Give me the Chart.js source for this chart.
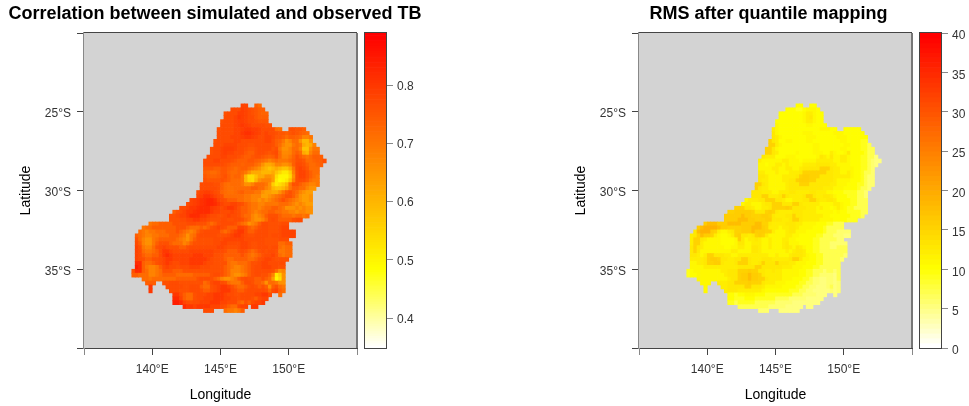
<!DOCTYPE html>
<html>
<head>
<meta charset="utf-8">
<script src="https://cdn.jsdelivr.net/npm/chart.js@4"></script>
<style>
  html, body { margin: 0; padding: 0; background: #fff; overflow: hidden; }
  canvas { position: absolute; top: 0; }
</style>
</head>
<body>
<canvas id="corr-map" width="430" height="406" style="left:0"></canvas>
<canvas id="corr-bar" width="80" height="406" style="left:360px"></canvas>
<canvas id="rms-map" width="403" height="406" style="left:567px"></canvas>
<canvas id="rms-bar" width="54" height="406" style="left:915px"></canvas>
<script>
// grid of the maps, one row per 0.25 degree going south
const firstLon = 138.5;
const firstLat = -24.5;
const cellDeg = 0.25;

// first column of every row, the arrays below start there (0 = no data in that cell)
const rowFirstCol = [32,29,27,27,26,26,25,25,25,24,24,23,23,22,21,21,21,21,21,21,20,20,19,19,17,16,14,12,11,11,5,3,2,1,1,1,1,1,1,1,1,1,0,0,3,4,5,5,12,12,12,15,21];

// correlation x 100
const corrRows = [
[78,78,0,0,74,72],
[77,77,77,79,78,77,76,75,74,74],
[76,77,77,77,79,79,78,77,76,75,74,73,73],
[77,77,77,78,80,79,78,77,77,75,74,74,74],
[76,77,77,77,78,79,79,78,77,77,76,75,75,75],
[77,77,77,77,78,79,80,79,78,77,77,77,77,76,76],
[76,77,77,77,77,78,78,79,80,80,79,79,78,77,77,77,77,72,71,0,0,76,76,75,75,74],
[77,77,77,77,77,78,78,80,81,81,80,79,78,77,78,77,77,76,75,75,74,75,76,75,74,73,72],
[77,77,77,77,78,78,78,79,80,80,79,78,77,77,78,78,77,75,75,74,72,74,74,73,72,68,68,70],
[76,77,77,77,77,77,78,78,77,77,77,77,77,77,77,78,78,76,74,73,70,66,68,72,72,66,60,60,66],
[77,77,77,78,78,78,78,77,77,77,76,76,77,77,77,77,77,76,74,72,68,66,66,70,72,70,62,60,62,68],
[76,77,77,78,79,79,79,78,77,77,76,75,75,76,77,77,77,77,75,76,70,66,66,68,72,72,68,58,58,66,70,70],
[76,77,77,78,79,78,78,77,77,77,75,74,74,76,77,77,76,75,76,77,72,67,67,68,72,74,72,62,60,68,72,72],
[77,77,77,77,78,78,77,77,77,76,75,74,74,75,76,76,75,74,73,74,76,72,68,68,70,73,76,74,72,70,72,74,74,74],
[77,77,77,78,78,77,77,77,76,75,74,74,74,75,75,74,73,72,70,68,70,72,70,70,70,72,74,76,76,75,72,72,73,74,74,76],
[77,77,77,77,77,77,76,75,74,74,74,73,74,74,74,72,70,66,62,62,64,68,68,66,66,68,74,77,77,76,74,72,72,73,74],
[75,75,75,74,74,75,75,74,73,72,73,74,74,72,70,68,66,62,60,58,60,62,60,58,58,62,70,77,78,77,75,72,72,72],
[74,73,72,72,73,75,75,73,72,72,73,72,70,66,62,62,62,60,60,60,62,58,55,52,52,56,68,76,78,78,76,74,72,72],
[75,74,73,73,74,75,76,74,72,73,73,70,60,54,54,58,62,62,66,66,64,54,50,50,50,54,66,76,78,78,76,74,72,70],
[76,75,75,75,75,76,75,74,72,72,72,70,60,55,54,60,66,68,68,68,64,52,49,50,52,58,68,76,77,77,75,72,70,70],
[77,77,77,77,76,76,74,72,71,72,72,72,70,66,66,68,72,72,72,70,66,56,52,54,56,60,70,76,76,74,72,70,68,68,70],
[77,77,77,77,77,76,74,72,71,71,72,72,72,72,72,74,74,72,72,68,66,60,58,58,60,64,70,74,74,72,72,68,66,66],
[77,78,79,79,78,77,76,73,72,71,71,72,73,74,72,72,72,70,70,66,64,64,62,62,66,70,74,76,74,72,68,66,64,64],
[78,79,81,81,80,78,77,76,72,72,72,72,72,72,70,70,68,68,68,64,64,66,68,70,72,74,76,76,74,70,66,64,64,66],
[78,79,80,81,82,83,83,81,78,77,76,74,74,74,72,72,70,70,68,68,66,68,66,68,70,72,74,76,74,72,70,68,66,64,64,66],
[77,78,79,80,81,82,83,83,82,80,78,77,77,78,78,77,76,74,72,70,70,68,68,70,70,70,70,72,72,72,70,68,66,68,66,64,64],
[77,77,78,80,80,81,82,82,82,80,79,78,77,78,80,80,78,76,74,74,72,70,70,68,70,72,72,74,74,72,70,66,66,66,68,66,68,66,66],
[74,76,77,78,80,80,81,82,82,82,82,80,78,78,77,77,77,78,77,76,74,74,72,70,68,70,72,72,74,74,72,72,70,70,68,68,66,68,68,66,66],
[76,76,77,78,78,80,82,82,82,80,80,78,77,77,76,76,77,78,77,77,76,74,72,72,68,66,68,70,74,76,76,76,74,72,72,72,70,72,72,70,72],
[76,76,76,77,77,78,78,80,80,78,78,77,76,76,76,77,77,76,76,77,77,76,74,72,68,66,66,68,72,76,77,76,74,74,74,74,76,77,77],
[70,72,72,74,74,74,74,76,76,76,76,77,77,77,76,76,76,74,72,74,76,77,77,77,77,76,74,72,70,66,68,70,74,77,77,76,76,76,76,77,77],
[70,72,72,74,74,74,74,74,74,74,76,76,76,74,72,72,72,74,72,74,76,77,78,77,76,74,74,74,78,78,77,74,72,74,76,77,77,76,76,76,77,78,78],
[72,70,68,70,70,72,72,72,74,74,74,76,74,72,70,68,70,74,76,77,77,77,77,77,74,72,74,76,78,80,80,77,74,74,76,77,77,77,76,76,76,77,78,78,78,78],
[74,72,70,68,68,70,70,72,72,72,74,74,74,72,70,66,70,72,76,77,77,77,77,77,76,76,76,77,78,80,80,78,77,76,76,77,77,77,77,76,77,77,77,78,78,78,78],
[76,72,68,66,66,70,72,74,74,74,74,74,72,70,68,66,70,74,76,76,76,76,76,77,77,77,78,78,78,78,78,78,77,77,77,77,77,77,76,76,76,76,77,77,77],
[77,74,68,66,66,70,74,76,76,76,74,72,72,72,68,70,74,76,76,76,76,76,76,77,77,78,78,77,77,77,77,78,78,77,76,76,77,77,76,76,76,76,72,72,74,74],
[78,76,70,68,68,72,76,77,78,77,76,76,76,74,74,76,77,77,77,77,77,77,77,77,78,78,77,76,76,76,77,78,78,77,76,76,77,77,77,76,77,77,72,70,72,72],
[78,77,72,70,70,72,74,77,80,80,78,77,77,77,77,77,78,78,78,78,78,78,78,77,77,77,76,74,74,74,76,77,76,74,72,74,76,77,76,77,77,76,70,70,72,72],
[78,77,74,72,72,74,74,77,80,82,80,78,78,78,78,78,78,80,80,80,78,78,78,76,76,76,74,74,74,74,74,76,74,72,70,72,74,76,77,77,78,76,72,70,72,72],
[78,77,76,74,74,76,76,77,78,80,80,78,78,78,78,78,80,80,80,80,80,78,77,76,76,76,74,72,72,74,74,74,74,72,72,74,76,77,78,78,77,76,76,76,76],
[82,82,74,72,72,74,76,77,78,80,78,77,77,78,78,78,80,80,80,80,78,77,77,76,76,76,76,72,70,70,72,72,72,74,76,76,77,78,78,77,77,77,77,77],
[84,82,74,70,68,68,70,74,77,78,77,77,76,77,77,77,78,78,78,77,77,77,76,76,76,76,74,72,70,68,68,70,72,74,76,77,77,78,78,78,77,77,76,76],
[76,82,82,74,72,68,68,70,72,76,76,76,74,74,74,76,76,76,76,76,76,76,76,76,76,76,76,74,72,68,68,68,70,72,74,76,77,77,77,77,77,76,72,66,68],
[74,74,72,72,72,68,68,70,72,74,74,74,74,72,72,72,72,72,74,74,74,74,74,76,77,77,76,74,72,68,66,66,68,70,74,76,77,77,76,76,74,68,52,56,66],
[72,72,70,72,72,72,72,72,72,72,74,74,74,74,74,74,76,77,77,77,76,74,72,68,66,66,68,70,74,76,77,76,76,74,74,76,74,72,64,50,54,66],
[74,74,74,0,0,76,76,77,77,77,76,76,76,76,76,76,76,72,74,77,78,78,77,76,72,70,70,70,74,77,77,76,74,74,72,66,72,72,70,66,66],
[80,0,0,0,0,77,77,77,77,77,76,76,77,77,77,74,72,72,76,77,78,80,80,78,76,74,72,72,74,76,77,76,74,76,74,66,74,76,72,70],
[80,0,0,0,0,0,77,77,77,76,76,76,77,77,77,76,74,74,76,77,78,80,80,80,77,76,74,74,76,77,77,77,77,77,76,72,77,78,74,72],
[80,80,77,74,72,72,76,77,77,77,78,78,80,80,80,78,77,77,76,76,77,77,77,77,78,78,80,80,77,0,0,72],
[82,82,78,74,72,72,76,77,77,78,78,78,80,80,80,78,78,77,77,76,77,77,77,76,74,77,78,78],
[84,84,82,78,77,76,77,77,78,78,78,80,80,80,78,78,77,77,77,74,72,76,74,77,78,78,80],
[82,80,80,78,80,80,80,80,78,78,78,77,76,74,72,72,77,78,78,0,80,80],
[77,77,77,0,0,0,72,70,70,68,70,74]
];

// RMS
const rmsRows = [
[10,10,0,0,10,10],
[10,10,10,9,9,10,11,11,11,10],
[10,10,10,10,10,10,10,11,12,12,11,10,10],
[10,10,10,10,10,10,10,11,12,13,11,10,10],
[10,10,10,10,10,10,10,10,11,12,12,11,10,10],
[11,10,10,10,10,10,10,10,10,11,11,10,10,10,10],
[12,11,10,10,10,10,10,10,10,10,10,10,10,10,11,11,11,10,10,0,0,10,10,10,10,10],
[13,11,10,10,10,10,10,10,10,11,11,11,10,10,10,10,10,10,11,11,11,10,10,10,10,10,10],
[13,12,11,10,10,10,10,10,10,10,11,11,11,10,10,10,10,10,10,11,11,11,10,10,10,10,10,10],
[15,13,12,10,10,11,11,10,10,10,10,11,11,10,10,10,10,10,10,10,10,11,11,10,10,10,10,9,9],
[15,15,12,11,10,10,10,10,10,10,10,10,10,11,11,10,10,10,10,10,10,10,11,11,10,10,10,9,9,7],
[15,15,13,11,10,10,10,10,10,10,10,10,10,10,11,11,10,10,10,10,10,10,11,11,10,10,10,10,9,9,7,7],
[15,15,13,12,10,10,10,10,10,11,10,10,10,10,11,11,11,10,10,12,11,10,10,11,13,10,10,10,10,9,7,7],
[13,12,12,12,10,10,10,11,11,11,10,10,10,10,10,10,11,13,12,11,13,11,11,12,12,11,10,10,10,9,9,7,7,5],
[12,11,11,11,11,11,11,12,12,11,11,11,10,11,11,11,11,12,12,12,12,12,11,11,12,12,11,10,10,10,9,9,7,6,5,5],
[11,11,10,11,11,12,12,11,12,11,11,11,11,12,12,12,12,13,13,13,13,12,12,11,11,11,11,10,10,10,9,9,7,6,5],
[11,11,11,11,12,12,11,11,12,12,11,11,12,13,13,13,13,13,15,15,15,13,12,12,11,11,11,11,10,10,9,9,7,6],
[12,12,11,11,11,12,11,11,11,12,12,12,13,15,15,15,15,15,15,15,13,13,12,12,11,11,12,11,10,10,9,7,7,6],
[13,13,12,11,11,11,11,12,12,12,12,13,15,16,16,15,15,15,13,13,13,13,12,12,12,12,12,11,10,10,9,7,6,6],
[13,12,12,11,11,11,11,12,12,13,13,15,16,16,16,15,15,13,13,13,13,13,12,11,11,11,11,10,10,10,9,7,6,6],
[15,15,13,12,11,11,11,11,11,12,13,13,13,15,15,15,13,13,13,13,13,13,12,12,11,11,11,10,10,10,9,9,7,6,6],
[15,13,12,12,11,11,11,11,11,12,13,13,13,13,13,13,13,13,13,13,12,12,12,11,11,11,10,10,10,10,9,7,7,6],
[13,13,13,12,12,12,11,11,12,12,12,13,13,12,12,12,12,13,13,12,12,12,11,11,10,10,10,9,9,9,9,7,7,6],
[13,13,13,15,15,12,12,12,13,15,13,12,12,12,12,13,15,15,13,12,12,13,13,12,11,10,10,10,9,9,9,7,7,6],
[11,12,12,12,13,13,15,15,15,13,13,12,11,11,12,12,12,13,13,15,15,13,12,12,13,13,12,10,10,10,10,9,9,7,7,7],
[11,12,12,11,11,11,12,13,13,15,15,15,13,13,13,15,15,13,12,12,12,12,12,11,11,11,11,12,12,11,10,10,9,9,7,7,7],
[15,15,15,13,13,12,11,11,12,12,13,15,15,15,15,16,15,13,13,13,13,12,12,12,11,12,11,11,10,11,12,11,10,9,9,7,7,7,7],
[15,15,16,16,16,16,16,15,13,13,13,15,16,15,13,12,12,12,12,13,13,13,12,12,12,12,11,11,11,11,11,10,11,10,10,9,9,9,9,7,7],
[16,16,16,16,16,18,16,16,15,15,15,16,16,15,13,12,12,12,13,13,15,13,13,12,12,12,12,12,12,11,11,10,10,10,10,10,10,9,9,9,7],
[16,16,16,16,18,18,18,16,16,15,15,15,16,16,13,13,13,12,12,13,15,15,13,12,12,12,12,12,11,11,11,11,10,10,10,10,9,9,9],
[16,18,18,18,16,16,16,18,18,18,18,16,16,16,16,18,18,15,15,13,12,12,12,12,13,13,13,12,12,11,11,11,11,10,10,10,9,9,7,7,7],
[16,18,19,19,19,19,18,16,16,15,15,15,15,16,16,16,18,18,18,16,15,12,12,12,11,12,12,13,13,12,11,11,11,11,10,10,10,9,7,7,7,7,7],
[13,18,19,19,19,16,15,12,11,11,12,13,15,15,16,16,16,18,16,16,16,15,15,12,11,11,11,12,13,13,11,11,11,10,10,10,10,10,9,7,7,7,6,6,6,6],
[12,13,15,18,16,16,15,12,11,10,10,11,12,15,16,13,13,12,13,15,16,15,13,11,11,11,11,11,12,12,11,11,10,10,10,10,10,9,9,7,7,7,6,6,6,5,5],
[12,15,15,13,12,11,11,11,11,10,10,10,10,11,16,13,11,12,12,13,12,11,11,12,11,11,11,12,12,11,11,10,10,10,10,10,9,9,7,7,7,7,7,6,6],
[12,15,15,12,11,11,11,11,11,10,10,10,10,11,13,13,11,11,12,12,12,11,11,12,11,11,11,12,13,11,11,11,10,10,10,10,9,9,7,7,7,6,6,6,6,6],
[13,15,13,12,11,11,11,11,11,11,10,10,11,11,12,12,11,11,13,13,12,11,11,12,11,11,11,12,13,12,11,13,12,11,10,10,9,9,7,7,7,6,6,7,7,7],
[13,15,13,11,11,11,11,11,11,11,11,11,12,12,11,11,11,11,13,13,12,11,11,11,11,11,11,11,12,11,12,13,13,12,10,10,9,9,7,7,7,7,7,7,7,7],
[13,13,12,11,12,15,15,13,13,13,12,12,11,11,12,12,12,12,12,12,12,12,12,11,11,12,11,11,11,12,13,13,13,12,11,10,10,9,9,7,7,7,7,7,7,6],
[12,12,12,12,13,15,16,16,15,13,13,12,12,13,13,15,15,13,12,12,12,13,13,13,12,12,12,12,12,13,15,15,13,11,11,10,10,9,9,7,7,7,7,7,6],
[11,11,12,12,13,15,15,16,16,13,12,12,12,13,15,15,15,13,12,12,13,15,13,13,13,15,13,13,13,12,12,11,11,11,10,10,10,9,9,7,7,7,7,7],
[11,11,11,11,12,12,12,12,12,12,12,12,12,12,13,13,13,13,13,15,15,13,13,13,13,13,13,12,12,12,11,11,11,10,10,10,9,9,7,7,7,7,7,7],
[9,10,11,11,11,11,11,11,11,11,12,12,13,13,13,15,15,15,16,15,15,13,13,12,12,13,12,12,11,11,11,11,11,10,10,9,9,7,7,7,6,7,7,6,7],
[9,10,10,11,11,11,11,11,11,11,11,12,13,13,13,15,16,16,18,16,16,15,13,12,12,12,12,12,11,11,11,11,11,10,10,9,9,7,7,6,6,6,6,5,7],
[11,11,11,11,11,11,11,11,11,12,13,13,15,16,16,18,16,16,15,15,13,12,12,12,12,11,11,11,10,10,10,9,9,7,6,6,5,5,6,6,5,7],
[11,11,11,0,0,12,12,12,13,13,15,15,15,15,16,15,15,15,13,12,12,12,11,11,11,10,10,10,10,9,9,7,7,6,6,5,5,6,6,5,6],
[11,0,0,0,0,12,12,13,13,13,13,13,15,15,13,13,13,12,11,11,11,11,11,10,10,10,10,9,9,7,7,6,6,5,5,5,6,7,5,6],
[11,0,0,0,0,0,12,13,13,13,12,12,12,12,12,12,12,11,10,10,10,10,10,10,10,9,9,9,7,7,6,6,5,5,5,5,5,6,5,6],
[10,10,9,10,10,11,11,11,10,10,10,9,9,9,9,9,9,9,9,7,7,7,6,6,6,6,5,5,5,0,0,5],
[10,10,9,9,9,10,10,10,9,9,9,9,9,9,7,7,7,7,6,6,6,6,6,5,5,5,5,5],
[9,9,7,9,9,9,9,9,7,7,7,7,7,7,6,6,6,6,6,5,5,5,5,5,5,5,5],
[7,7,7,7,7,7,7,7,7,6,6,6,6,6,5,5,5,5,5,0,5,5],
[6,6,6,0,0,0,5,5,5,5,5,5]
];

const corrRange = [0.3485, 0.8893];
const rmsRange = [0, 40];
const lonTicks = ['', '140°E', '145°E', '150°E', ''];
const latTicks = ['', '25°S', '30°S', '35°S', ''];

// white -> yellow at a quarter of the way -> red
function heatColor(t, steps) {
    t = Math.min(Math.max(Math.floor(t * steps) / (steps - 1), 0), 1);
    if (t < 0.25) {
        return 'rgb(255,255,' + Math.round(255 * (1 - t / 0.25)) + ')';
    }
    return 'rgb(255,' + Math.round(255 * (1 - (t - 0.25) / 0.75)) + ',0)';
}

function buildCells(rows, scaleValue, range, steps) {
    const cells = [];
    const colors = [];
    rows.forEach((row, r) => {
        const lat = firstLat - cellDeg * (r + 0.5);
        row.forEach((value, i) => {
            if (!value) return;
            const lon = firstLon + cellDeg * (rowFirstCol[r] + i + 0.5);
            cells.push({ x: lon, y: [lat - cellDeg / 2, lat + cellDeg / 2] });
            colors.push(heatColor((value * scaleValue - range[0]) / (range[1] - range[0]), steps));
        });
    });
    return { cells, colors };
}

// grey panel behind the cells, and the edges of the box the axes don't draw
const panelBox = {
    id: 'panelBox',
    beforeDatasetsDraw(chart, args, opts) {
        if (!opts.fill) return;
        const a = chart.chartArea;
        chart.ctx.fillStyle = opts.fill;
        chart.ctx.fillRect(a.left, a.top, a.width, a.height);
    },
    afterDraw(chart, args, opts) {
        const a = chart.chartArea;
        const ctx = chart.ctx;
        ctx.save();
        if (opts.closed) {
            ctx.lineWidth = 1;
            ctx.strokeStyle = opts.edge;
            ctx.strokeRect(a.left - 0.5, a.top - 0.5, a.width + 1, a.height + 1);
            ctx.restore();
            return;
        }
        ctx.lineWidth = 1;
        ctx.strokeStyle = '#444';
        ctx.beginPath();
        ctx.moveTo(a.left, a.top - 0.5);
        ctx.lineTo(a.right, a.top - 0.5);
        ctx.stroke();
        ctx.strokeStyle = opts.edge;
        ctx.lineWidth = opts.edgeWidth;
        ctx.beginPath();
        ctx.moveTo(a.right, a.top);
        ctx.lineTo(a.right, a.bottom);
        ctx.stroke();
        ctx.restore();
    }
};

function makeMap(id, title, rows, scaleValue, range, steps, axisWidth, rightSpace, latPad) {
    const { cells, colors } = buildCells(rows, scaleValue, range, steps);
    new Chart(document.getElementById(id), {
        type: 'bar',
        plugins: [panelBox],
        data: {
            datasets: [{
                data: cells,
                backgroundColor: colors,
                borderWidth: 0,
                barPercentage: 1,
                categoryPercentage: 1,
            }],
        },
        options: {
            responsive: false,
            animation: false,
            plugins: {
                legend: { display: false },
                tooltip: { enabled: false },
                title: {
                    display: true,
                    text: title,
                    color: '#000',
                    font: { family: 'Liberation Sans', size: 18, weight: 'bold', lineHeight: 1.2 },
                    padding: { top: 3.5, bottom: 7.9 },
                },
                panelBox: { fill: '#d3d3d3', edge: '#777', edgeWidth: 2 },
            },
            scales: {
                x: {
                    type: 'linear',
                    min: 135,
                    max: 155,
                    offset: false,
                    afterFit: (s) => { s.height = 58; },
                    border: { color: '#444', width: 1 },
                    grid: {
                        offset: false,
                        drawOnChartArea: false,
                        tickLength: 7,
                        color: (c) => (c.tick && (c.tick.value === 135 || c.tick.value === 155) ? '#888' : '#444'),
                    },
                    ticks: {
                        stepSize: 5,
                        maxRotation: 0,
                        autoSkip: false,
                        color: '#333',
                        padding: 7,
                        font: { family: 'Liberation Sans', size: 12 },
                        callback: (v) => lonTicks[(v - 135) / 5],
                    },
                    title: {
                        display: true,
                        text: 'Longitude',
                        color: '#000',
                        font: { family: 'Liberation Sans', size: 14 },
                        padding: { top: 0, bottom: 2.6 },
                    },
                },
                y: {
                    min: -40,
                    max: -20,
                    afterFit: (s) => { s.width = axisWidth; },
                    border: { color: '#888', width: 2 },
                    grid: { drawOnChartArea: false, tickLength: 7, color: '#444' },
                    ticks: {
                        stepSize: 5,
                        color: '#333',
                        padding: 6,
                        labelOffset: 2,
                        font: { family: 'Liberation Sans', size: 12 },
                        callback: (v) => latTicks[(v + 20) / -5],
                    },
                    title: {
                        display: true,
                        text: 'Latitude',
                        color: '#000',
                        font: { family: 'Liberation Sans', size: 14 },
                        padding: { top: latPad, bottom: 0 },
                    },
                },
                // empty axis, only keeps the space where the colour bar sits so the title stays centred on the canvas
                spacer: {
                    position: 'right',
                    afterFit: (s) => { s.width = rightSpace; },
                    border: { display: false },
                    grid: { display: false },
                    ticks: { display: false },
                },
            },
        },
    });
}

function makeBar(id, range, steps, stepSize, axisWidth, labelShift, fmt) {
    const cells = [];
    const colors = [];
    for (let i = 0; i < steps; i++) {
        cells.push({ x: 0, y: [range[0] + (range[1] - range[0]) * i / steps, range[0] + (range[1] - range[0]) * (i + 1) / steps] });
        colors.push(heatColor((i + 0.5) / steps, steps));
    }
    new Chart(document.getElementById(id), {
        type: 'bar',
        plugins: [panelBox],
        data: {
            datasets: [{ data: cells, backgroundColor: colors, borderWidth: 0, barPercentage: 1, categoryPercentage: 1 }],
        },
        options: {
            responsive: false,
            animation: false,
            layout: { padding: { top: 33, bottom: 58, left: 5 } },
            plugins: {
                legend: { display: false },
                tooltip: { enabled: false },
                panelBox: { edge: '#444', closed: true },
            },
            scales: {
                x: { type: 'linear', display: false, min: -1, max: 1, offset: false, grid: { offset: false } },
                y: {
                    position: 'right',
                    min: range[0],
                    max: range[1],
                    afterFit: (s) => { s.width = axisWidth; },
                    border: { color: '#666', width: 1 },
                    grid: { drawOnChartArea: false, tickLength: 7, color: '#888' },
                    ticks: {
                        stepSize: stepSize,
                        includeBounds: false,
                        color: '#333',
                        padding: 4,
                        labelOffset: labelShift,
                        font: { family: 'Liberation Sans', size: 12 },
                        callback: fmt,
                    },
                },
            },
        },
    });
}

makeMap('corr-map', 'Correlation between simulated and observed TB', corrRows, 0.01, corrRange, 128, 84, 73, 17.5);
makeMap('rms-map', 'RMS after quantile mapping', rmsRows, 1, rmsRange, 64, 72, 58, 5.5);
makeBar('corr-bar', corrRange, 128, 0.1, 54, 1.5, (v) => v.toFixed(1));
makeBar('rms-bar', rmsRange, 64, 5, 28, 3, (v) => String(v));
</script>
</body>
</html>
